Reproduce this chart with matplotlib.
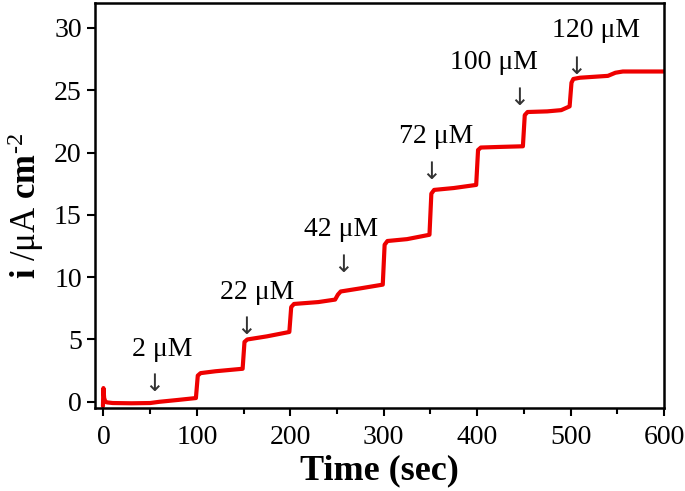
import numpy as np
import matplotlib
matplotlib.use('Agg')
import matplotlib.pyplot as plt
from matplotlib.ticker import MultipleLocator

plt.rcParams['font.family'] = ['Liberation Serif', 'DejaVu Serif']
plt.rcParams['mathtext.fontset'] = 'custom'
plt.rcParams['mathtext.rm'] = 'Liberation Serif'
plt.rcParams['mathtext.bf'] = 'Liberation Serif:bold'
plt.rcParams['mathtext.default'] = 'regular'

################ data

time_s = [-0.5, 0, 0.8, 2, 4, 10, 30, 50, 60, 80, 99,
          101, 104, 120, 149,
          151, 154, 175, 199,
          201, 204, 230, 248,
          251, 254, 275, 299,
          301, 304, 325, 349,
          351, 354, 375, 399,
          401, 404, 425, 449,
          451, 454, 475, 490, 496, 499,
          501, 503, 510, 540, 548, 556, 600]
current = [-0.35, 1.1, 0.3, 0.0, -0.05, -0.1, -0.12, -0.1, 0.0, 0.15, 0.3,
           2.1, 2.3, 2.45, 2.65,
           4.8, 5.0, 5.25, 5.6,
           7.6, 7.85, 8.0, 8.2,
           8.6, 8.85, 9.1, 9.4,
           12.6, 12.9, 13.05, 13.4,
           16.7, 17.0, 17.15, 17.4,
           20.2, 20.4, 20.45, 20.5,
           23.0, 23.25, 23.3, 23.4, 23.6, 23.7,
           25.6, 25.9, 26.0, 26.15, 26.4, 26.5, 26.5]

labels = ['2 μM', '22 μM', '42 μM', '72 μM', '100 μM', '120 μM']
label_t = [63, 164, 254, 356, 418, 527]
label_y = [4.2, 8.8, 13.8, 21.3, 27.2, 29.8]
arrow_t = [54, 153, 256, 351, 445, 506]
arrow_y = [1.45, 6.0, 11.0, 18.4, 24.4, 26.9]

################

fig = plt.figure(figsize=(6.85, 4.91), dpi=100)
ax = fig.add_axes([0.1387, 0.169, 0.8306, 0.825])

ax.plot(time_s, current, color='#ee0000', lw=3, solid_capstyle='round')

for lab, tx, ty in zip(labels, label_t, label_y):
    ax.text(tx, ty, lab, fontsize=20, ha='center', va='center')
for tx, ty in zip(arrow_t, arrow_y):
    ax.text(tx, ty, '↓', fontsize=17, ha='center', va='center',
            family=['DejaVu Sans'], color='#333333')

ax.set_xlim(-9, 600)
ax.set_ylim(-0.5, 32)
ax.xaxis.set_major_locator(MultipleLocator(100))
ax.xaxis.set_minor_locator(MultipleLocator(50))
ax.yaxis.set_major_locator(MultipleLocator(5))

ax.tick_params(which='major', direction='out', length=6, width=1.5, labelsize=20)
ax.tick_params(which='minor', direction='out', length=4, width=1.5)
ax.tick_params(axis='x', pad=6)
for sp in ax.spines.values():
    sp.set_linewidth(1.8)

ax.set_xlabel('Time (sec)', fontsize=26, fontweight='bold', labelpad=3)
ax.set_ylabel(r'$\mathbf{i}$ /μA $\mathbf{cm}^{\text{-2}}$', fontsize=25, labelpad=6)

fig.savefig('out.png', dpi=100)
